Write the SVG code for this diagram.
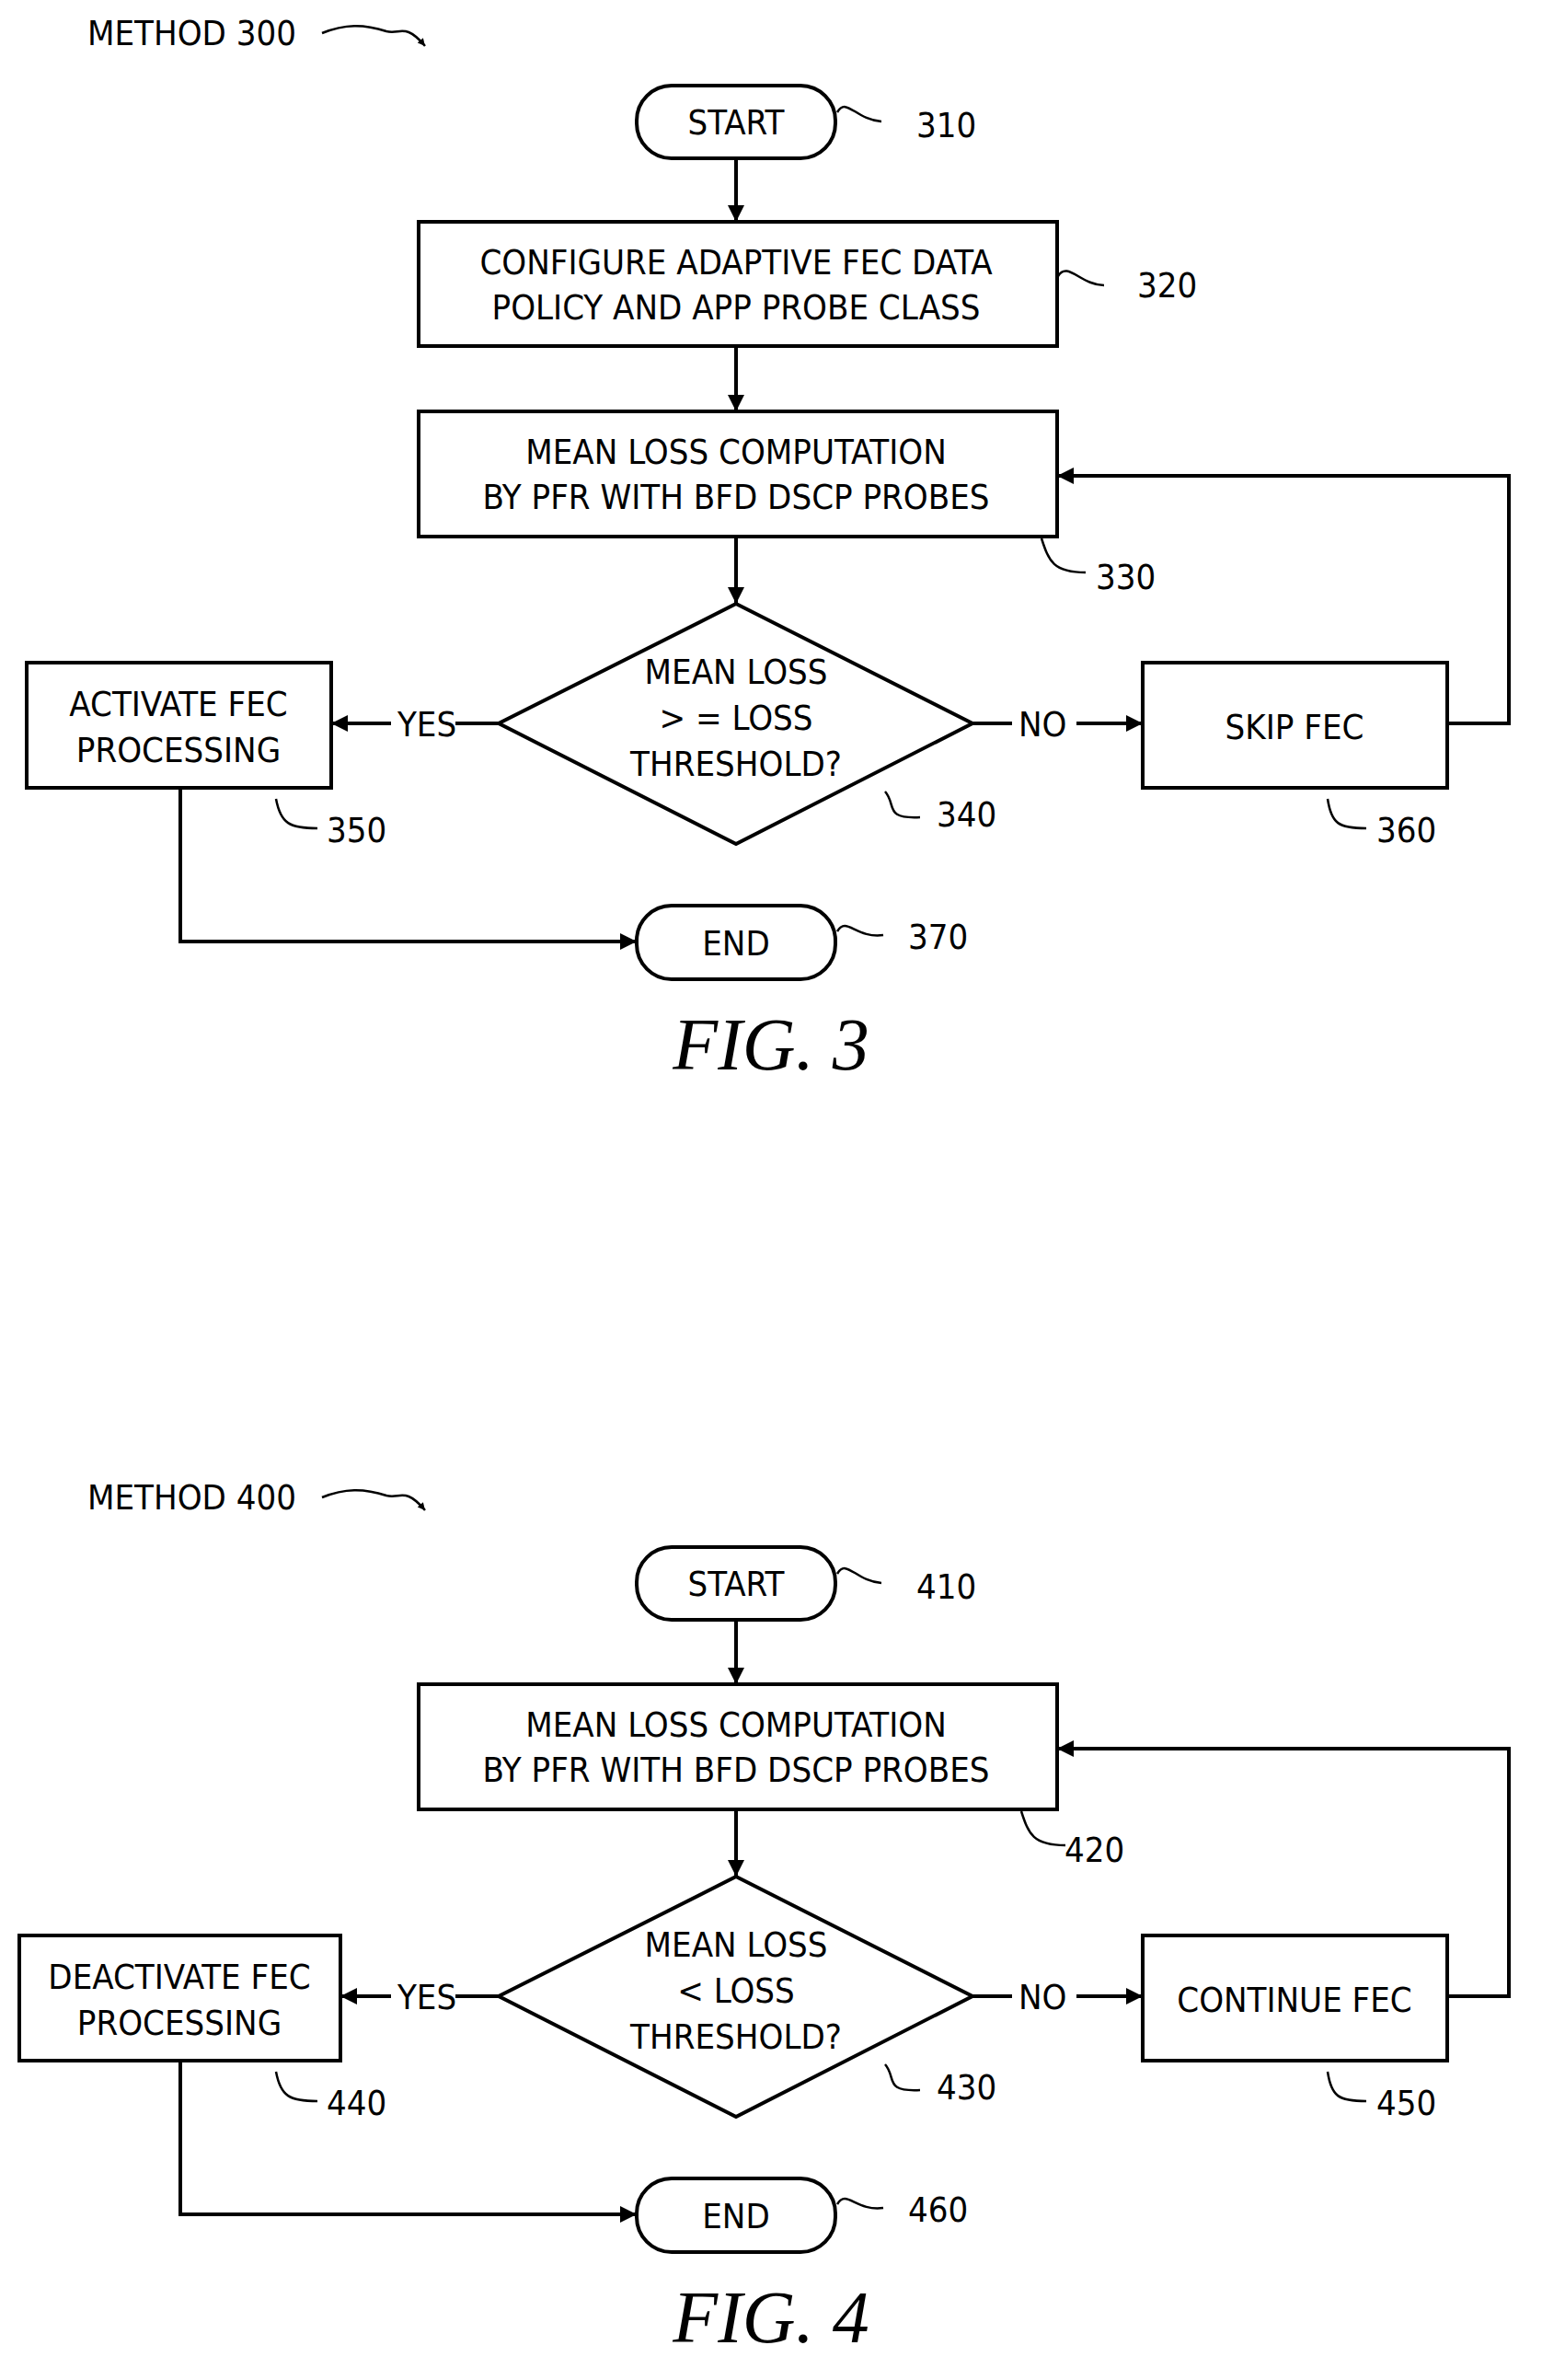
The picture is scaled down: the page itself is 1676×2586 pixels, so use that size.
<svg xmlns="http://www.w3.org/2000/svg" width="1676" height="2586" viewBox="0 0 1676 2586">
<style>
text{font-family:"DejaVu Sans Condensed","DejaVu Sans",sans-serif;font-size:38px;fill:#000}
.c{text-anchor:middle}
.s{fill:#fff;stroke:#000;stroke-width:4}
.l{fill:none;stroke:#000;stroke-width:4}
.q{fill:none;stroke:#000;stroke-width:2.5}
.fig{font-family:"Liberation Serif",serif;font-style:italic;font-size:80px}
</style>
<defs><marker id="a" viewBox="0 0 10 10" refX="10" refY="5" markerWidth="10" markerHeight="8" markerUnits="userSpaceOnUse" orient="auto"><path d="M0,0L10,5L0,10z"/></marker>
<marker id="b" viewBox="0 0 10 10" refX="10" refY="5" markerWidth="36" markerHeight="18" markerUnits="userSpaceOnUse" orient="auto"><path d="M0,0L10,5L0,10z"/></marker></defs>
<g id="fig3">
<text x="95" y="49">METHOD 300</text>
<path class="q" d="M350,36 C375,26 395,26 420,34 C435,38 440,24 462,50" marker-end="url(#a)"/>
<g id="n310"><rect class="s" x="692" y="93" width="216" height="79" rx="38"/><text class="c" x="800" y="146">START</text>
<path class="q" d="M910,122 C920,105 930,130 958,132"/><text x="996" y="149">310</text></g>
<g id="n320"><rect class="s" x="455" y="241" width="694" height="135"/><text class="c" x="800" y="298">CONFIGURE ADAPTIVE FEC DATA</text><text class="c" x="800" y="347">POLICY AND APP PROBE CLASS</text>
<path class="q" d="M1150,300 C1160,283 1175,310 1200,310"/><text x="1236" y="323">320</text></g>
<g id="n330"><rect class="s" x="455" y="447" width="694" height="136"/><text class="c" x="800" y="504">MEAN LOSS COMPUTATION</text><text class="c" x="800" y="553">BY PFR WITH BFD DSCP PROBES</text>
<path class="q" d="M1132,585 C1140,610 1145,622 1180,622"/><text x="1191" y="640">330</text></g>
<g id="n340"><path class="s" d="M800,656 L1057,786 L800,917 L542,786z"/><text class="c" x="800" y="743">MEAN LOSS</text><text class="c" x="800" y="793">&gt; = LOSS</text><text class="c" x="800" y="843">THRESHOLD?</text>
<path class="q" d="M962,860 C975,875 960,890 1000,888"/><text x="1018" y="898">340</text></g>
<g id="n350"><rect class="s" x="29" y="720" width="331" height="136"/><text class="c" x="194" y="778">ACTIVATE FEC</text><text class="c" x="194" y="828">PROCESSING</text>
<path class="q" d="M300,868 C305,895 315,900 345,900"/><text x="355" y="915">350</text></g>
<g id="n360"><rect class="s" x="1242" y="720" width="331" height="136"/><text class="c" x="1407" y="803">SKIP FEC</text>
<path class="q" d="M1443,868 C1447,895 1455,900 1485,900"/><text x="1496" y="915">360</text></g>
<g id="n370"><rect class="s" x="692" y="984" width="216" height="80" rx="38"/><text class="c" x="800" y="1038">END</text>
<path class="q" d="M910,1012 C920,995 930,1020 960,1016"/><text x="987" y="1031">370</text></g>
<text class="fig c" x="838" y="1162">FIG. 3</text>
</g>
<g id="fig4">
<text x="95" y="1640">METHOD 400</text>
<path class="q" d="M350,1627 C375,1617 395,1617 420,1625 C435,1629 440,1615 462,1641" marker-end="url(#a)"/>
<g id="n410"><rect class="s" x="692" y="1681" width="216" height="79" rx="38"/><text class="c" x="800" y="1734">START</text>
<path class="q" d="M910,1710 C920,1693 930,1718 958,1720"/><text x="996" y="1737">410</text></g>
<g id="n420"><rect class="s" x="455" y="1830" width="694" height="136"/><text class="c" x="800" y="1887">MEAN LOSS COMPUTATION</text><text class="c" x="800" y="1936">BY PFR WITH BFD DSCP PROBES</text>
<path class="q" d="M1110,1968 C1118,1993 1123,2005 1158,2005"/><text x="1157" y="2023">420</text></g>
<g id="n430"><path class="s" d="M800,2039 L1057,2169 L800,2300 L542,2169z"/><text class="c" x="800" y="2126">MEAN LOSS</text><text class="c" x="800" y="2176">&lt; LOSS</text><text class="c" x="800" y="2226">THRESHOLD?</text>
<path class="q" d="M962,2243 C975,2258 960,2273 1000,2271"/><text x="1018" y="2281">430</text></g>
<g id="n440"><rect class="s" x="21" y="2103" width="349" height="136"/><text class="c" x="195" y="2161">DEACTIVATE FEC</text><text class="c" x="195" y="2211">PROCESSING</text>
<path class="q" d="M300,2251 C305,2278 315,2283 345,2283"/><text x="355" y="2298">440</text></g>
<g id="n450"><rect class="s" x="1242" y="2103" width="331" height="136"/><text class="c" x="1407" y="2186">CONTINUE FEC</text>
<path class="q" d="M1443,2251 C1447,2278 1455,2283 1485,2283"/><text x="1496" y="2298">450</text></g>
<g id="n460"><rect class="s" x="692" y="2367" width="216" height="80" rx="38"/><text class="c" x="800" y="2421">END</text>
<path class="q" d="M910,2395 C920,2378 930,2403 960,2399"/><text x="987" y="2414">460</text></g>
<text class="fig c" x="838" y="2545">FIG. 4</text>
</g>
<g id="connectors">
<path class="l" d="M800,172V241" marker-end="url(#b)"/>
<path class="l" d="M800,376V447" marker-end="url(#b)"/>
<path class="l" d="M800,583V656" marker-end="url(#b)"/>
<path class="l" d="M542,786H495"/><text x="432" y="800">YES</text><path class="l" d="M425,786H360" marker-end="url(#b)"/>
<path class="l" d="M1057,786H1100"/><text x="1107" y="800">NO</text><path class="l" d="M1170,786H1242" marker-end="url(#b)"/>
<path class="l" d="M1573,786H1640V517H1149" marker-end="url(#b)"/>
<path class="l" d="M196,856V1023H692" marker-end="url(#b)"/>
<path class="l" d="M800,1760V1830" marker-end="url(#b)"/>
<path class="l" d="M800,1966V2039" marker-end="url(#b)"/>
<path class="l" d="M542,2169H495"/><text x="432" y="2183">YES</text><path class="l" d="M425,2169H370" marker-end="url(#b)"/>
<path class="l" d="M1057,2169H1100"/><text x="1107" y="2183">NO</text><path class="l" d="M1170,2169H1242" marker-end="url(#b)"/>
<path class="l" d="M1573,2169H1640V1900H1149" marker-end="url(#b)"/>
<path class="l" d="M196,2239V2406H692" marker-end="url(#b)"/>
</g>
</svg>
